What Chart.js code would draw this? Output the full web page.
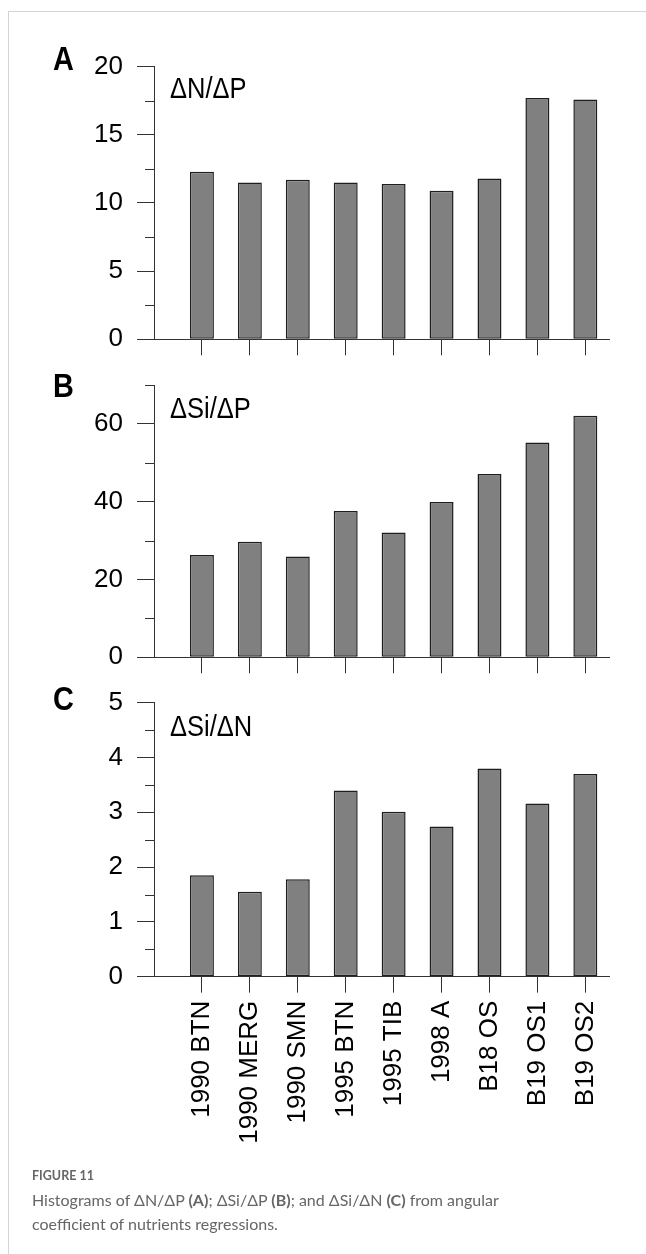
<!DOCTYPE html>
<html>
<head>
<meta charset="utf-8">
<script src="https://cdn.jsdelivr.net/npm/chart.js@4.4.1/dist/chart.umd.min.js"></script>
<style>
  html, body { margin: 0; padding: 0; background: #fff; }
  #page { position: relative; width: 646px; height: 1254px; overflow: hidden; }
  #frame { position: absolute; left: 8px; top: 11px; width: 700px; height: 1300px;
           border-left: 1px solid #d4d4d4; border-top: 1px solid #d4d4d4; }
  canvas { position: absolute; left: 0; top: 0; }
  .panel { position: absolute; font-family: "Liberation Sans", Arial, sans-serif; font-weight: bold;
           font-size: 34px; line-height: 34px; color: #000; transform: scaleX(0.85); transform-origin: 0 0; }
  .ratio { position: absolute; font-family: "Liberation Sans", Arial, sans-serif; font-size: 30px; line-height: 30px;
           color: #000; transform: scaleX(0.85); transform-origin: 0 0; white-space: nowrap; }
  #caption { position: absolute; left: 32px; top: 1166px; width: 470px; font-family: Lato, "Open Sans", sans-serif; color: #666; }
  #caption .fig { font-size: 12.5px; font-weight: bold; line-height: 20px; }
  #caption .txt { font-size: 16px; line-height: 24px; margin-top: 2px; }
</style>
</head>
<body>
<div id="page">
  <div id="frame"></div>
  <canvas id="chartA" width="646" height="1254"></canvas>
  <canvas id="chartB" width="646" height="1254"></canvas>
  <canvas id="chartC" width="646" height="1254"></canvas>

  <div class="panel" style="left:53px; top:40.6px;">A</div>
  <div class="panel" style="left:53px; top:367.6px;">B</div>
  <div class="panel" style="left:53px; top:680.6px;">C</div>

  <div class="ratio" style="left:170px; top:72.8px;">ΔN/ΔP</div>
  <div class="ratio" style="left:170px; top:392.8px;">ΔSi/ΔP</div>
  <div class="ratio" style="left:170px; top:711px;">ΔSi/ΔN</div>

  <div id="caption">
    <div class="fig">FIGURE 11</div>
    <div class="txt">Histograms of ΔN/ΔP <b>(A)</b>; ΔSi/ΔP <b>(B)</b>; and ΔSi/ΔN <b>(C)</b> from angular coefficient of nutrients regressions.</div>
  </div>
</div>

<script>
// stations / campaigns along the x axis
const stations = ['1990 BTN', '1990 MERG', '1990 SMN', '1995 BTN', '1995 TIB', '1998 A', 'B18 OS', 'B19 OS1', 'B19 OS2'];

// regression slopes
const ratioNP = [12.3, 11.5, 11.7, 11.5, 11.4, 10.9, 11.8, 17.7, 17.6];
const ratioSiP = [26.3, 29.7, 25.9, 37.6, 32.1, 39.9, 47.1, 55.2, 62.1];
const ratioSiN = [1.85, 1.55, 1.78, 3.40, 3.01, 2.74, 3.80, 3.16, 3.70];

// y axis ticks (labelled) and the short unlabelled ones in between
const majorNP = [0, 5, 10, 15, 20];
const minorNP = [2.5, 7.5, 12.5, 17.5];
const majorSiP = [0, 20, 40, 60];
const minorSiP = [10, 30, 50, 70];
const majorSiN = [0, 1, 2, 3, 4, 5];
const minorSiN = [0.5, 1.5, 2.5, 3.5, 4.5];

const axisFont = '"Liberation Sans", Arial, sans-serif';
const lineColor = '#333';

// short ticks between the labelled ones on the y axis
const minorTicks = {
  id: 'minorTicks',
  afterDraw(chart, args, opts) {
    const y = chart.scales.y;
    const ctx = chart.ctx;
    ctx.save();
    ctx.strokeStyle = lineColor;
    ctx.lineWidth = 1;
    ctx.beginPath();
    opts.values.forEach(v => {
      const py = Math.round(y.getPixelForValue(v)) + 0.5;
      ctx.moveTo(y.right - 9, py);
      ctx.lineTo(y.right, py);
    });
    ctx.stroke();
    ctx.restore();
  }
};

function makePanel(id, values, major, minor, yMax, areaTop, areaBottom, showLabels) {
  const xHeight = showLabels ? 200 : 20;
  return new Chart(document.getElementById(id), {
    type: 'bar',
    data: {
      datasets: [{
        data: values.map((v, i) => ({ x: i + 1, y: v })),
        backgroundColor: '#808080',
        borderColor: '#1e1e1e',
        borderWidth: 1.5,
        borderSkipped: false,
        barPercentage: 0.5,
        categoryPercentage: 1
      }]
    },
    options: {
      responsive: false,
      devicePixelRatio: 1,
      animation: false,
      events: [],
      layout: { padding: { left: 0, right: 646 - 609.3, top: areaTop, bottom: 1254 - areaBottom - xHeight } },
      plugins: {
        legend: { display: false },
        tooltip: { enabled: false },
        minorTicks: { values: minor }
      },
      scales: {
        x: {
          type: 'linear',
          min: 0,
          max: 9.5,
          offset: false,
          afterBuildTicks: s => { s.ticks = stations.map((n, i) => ({ value: i + 1 })); },
          afterFit: s => { s.height = xHeight; },
          grid: { offset: false, drawOnChartArea: false, drawTicks: true, tickLength: 16, color: lineColor, lineWidth: 1 },
          border: { display: true, color: lineColor, width: 1 },
          ticks: {
            autoSkip: false,
            minRotation: showLabels ? 90 : 0,
            maxRotation: showLabels ? 90 : 0,
            padding: 8,
            color: '#000',
            font: { family: axisFont, size: 26 },
            callback: v => showLabels ? stations[v - 1] : ''
          }
        },
        y: {
          min: 0,
          max: yMax,
          afterBuildTicks: s => { s.ticks = major.map(v => ({ value: v })); },
          afterFit: s => { s.width = 154; },
          grid: { drawOnChartArea: false, drawTicks: true, tickLength: 17, color: lineColor, lineWidth: 1 },
          border: { display: true, color: lineColor, width: 1 },
          ticks: {
            padding: 14,
            color: '#000',
            font: { family: axisFont, size: 26 }
          }
        }
      }
    },
    plugins: [minorTicks]
  });
}

makePanel('chartA', ratioNP, majorNP, minorNP, 20, 66.7, 339.3, false);
makePanel('chartB', ratioSiP, majorSiP, minorSiP, 70, 385, 657.3, false);
makePanel('chartC', ratioSiN, majorSiN, minorSiN, 5, 702.7, 976.7, true);
</script>
</body>
</html>
